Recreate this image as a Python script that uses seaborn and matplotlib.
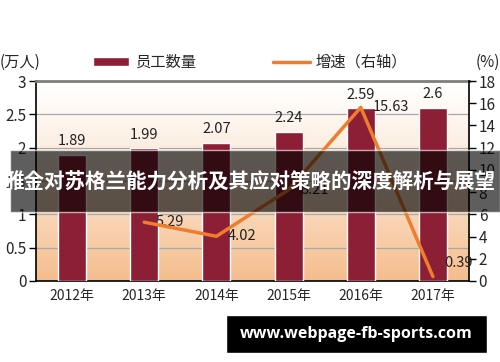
import numpy as np
import pandas as pd
import seaborn as sns
import matplotlib.pyplot as plt
from matplotlib.patches import Rectangle, Patch
from matplotlib.lines import Line2D

# chart data
years = ["2012年", "2013年", "2014年", "2015年", "2016年", "2017年"]
staff = [1.89, 1.99, 2.07, 2.24, 2.59, 2.6]
growth_years = ["2013年", "2014年", "2015年", "2016年", "2017年"]
growth = [5.29, 4.02, 8.21, 15.63, 0.39]

bar_color = "#8C1F36"
line_color = "#EE7D2E"

sns.set_style("white")
plt.rcParams["font.family"] = ["Noto Sans CJK JP", "DejaVu Sans"]

fig = plt.figure(figsize=(5, 3.62), dpi=100)
ax = fig.add_axes([0.072, 0.224, 0.866, 0.552])

# gradient background of the plot area
grad = np.linspace(0, 1, 256).reshape(-1, 1)
top = np.array([1.0, 1.0, 1.0])
bottom = np.array([0.96, 0.74, 0.55])
img = top + (bottom - top) * grad[..., None] ** 1.2
ax.imshow(img, extent=[-0.5, 5.5, 0, 3], aspect="auto", zorder=0, origin="upper")

df = pd.DataFrame({"year": years, "staff": staff})
sns.barplot(data=df, x="year", y="staff", color=bar_color, width=0.39,
            saturation=1, ax=ax, zorder=3)
for i, v in enumerate(staff):
    ax.text(i, v + 0.1, f"{v:g}", ha="center", va="bottom", fontsize=10.5, color="#222222")

ax.set_xlim(-0.5, 5.5)
ax.set_ylim(0, 3)
ax.set_yticks(np.arange(0, 3.01, 0.5))
ax.set_yticklabels(["0", "0.5", "1", "1.5", "2", "2.5", "3"], fontsize=11)
ax.yaxis.grid(True, color="#A8A8A8", linewidth=0.9, zorder=1)
ax.set_axisbelow(True)
ax.set_xlabel("")
ax.set_ylabel("")
ax.set_xticks(np.arange(-0.5, 6, 1))
ax.set_xticklabels([])
ax.set_xticks(range(len(years)), minor=True)
ax.set_xticklabels(years, minor=True, fontsize=10)
ax.tick_params(axis="x", which="major", length=5, width=1, color="black", direction="out")
ax.tick_params(axis="x", which="minor", length=0, pad=6)
ax.tick_params(axis="y", length=5, width=1, color="black", direction="out", pad=2)
for s in ["left", "bottom"]:
    ax.spines[s].set_color("black")
    ax.spines[s].set_linewidth(1.2)
ax.spines["top"].set_color("#7F7F7F")
ax.spines["top"].set_linewidth(2)
ax.spines["right"].set_visible(False)

# growth line on the right axis
ax2 = ax.twinx()
gdf = pd.DataFrame({"pos": [years.index(y) for y in growth_years], "growth": growth})
sns.lineplot(data=gdf, x="pos", y="growth", color=line_color, linewidth=2.5, ax=ax2, zorder=4)
for p, v in zip(gdf["pos"], growth):
    dy = 1.2 if v < 1 else 0
    ax2.text(p + 0.16, v + dy, f"{v:.2f}", ha="left", va="center", fontsize=10.5, color="#222222")
ax2.set_ylim(0, 18)
ax2.set_yticks(range(0, 19, 2))
ax2.set_yticklabels([str(t) for t in range(0, 19, 2)], fontsize=11)
ax2.set_xlim(-0.5, 5.5)
ax2.set_ylabel("")
ax2.tick_params(axis="y", length=5, width=1, color="black", direction="out", pad=2)
ax2.spines["right"].set_color("black")
ax2.spines["right"].set_linewidth(1.2)
for s in ["left", "top", "bottom"]:
    ax2.spines[s].set_visible(False)

# unit labels and legend
fig.text(0.0, 0.828, "(万人)", fontsize=11, ha="left", va="center")
fig.text(1.0, 0.828, "(%)", fontsize=11, ha="right", va="center")
handles = [Patch(facecolor=bar_color, label="员工数量"),
           Line2D([0], [0], color=line_color, linewidth=2.5, label="增速（右轴）")]
fig.legend(handles=handles, loc="center", bbox_to_anchor=(0.5, 0.828), ncol=2,
           frameon=False, fontsize=11, handlelength=2.4, handleheight=0.55,
           columnspacing=5, handletextpad=0.4)

# title banner over the chart
fig.patches.append(Rectangle((0.02, 0.414), 0.98, 0.172, transform=fig.transFigure,
                             facecolor="black", alpha=0.63, zorder=10))
fig.text(0.5, 0.497, "雅金对苏格兰能力分析及其应对策略的深度解析与展望", color="white",
         fontsize=14.8, fontweight="bold", ha="center", va="center", zorder=11)

# watermark
fig.patches.append(Rectangle((0.452, 0.025), 0.522, 0.105, transform=fig.transFigure,
                             facecolor="black", zorder=10))
fig.text(0.713, 0.077, "www.webpage-fb-sports.com", color="white", fontsize=11.5,
         fontweight="bold", family=["Open Sans", "DejaVu Sans"], ha="center", va="center", zorder=11)

plt.savefig("out.png", dpi=100)
